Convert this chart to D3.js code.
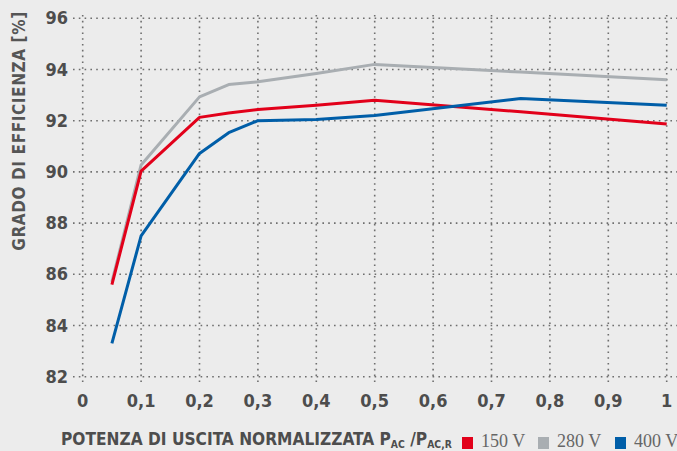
<!DOCTYPE html>
<html>
<head>
<meta charset="utf-8">
<script src="https://cdn.jsdelivr.net/npm/d3@7"></script>
<style>
  html, body { margin: 0; padding: 0; background: #ececec; }
  svg { display: block; }
  .cond { font-family: "Liberation Sans Narrow", "DejaVu Sans Condensed", "Arial Narrow", sans-serif; font-weight: bold; }
</style>
</head>
<body>
<svg id="chart" width="677" height="451"></svg>
<script>
const xValues = [0.05, 0.1, 0.2, 0.25, 0.3, 0.4, 0.5, 0.75, 1.0];
const series150 = [85.6, 90.03, 92.13, 92.3, 92.44, 92.6, 92.8, 92.35, 91.87];
const series280 = [85.7, 90.27, 92.93, 93.41, 93.52, 93.84, 94.2, 93.9, 93.6];
const series400 = [83.3, 87.5, 90.72, 91.53, 92.0, 92.05, 92.2, 92.87, 92.6];
const seriesNames = ["150 V", "280 V", "400 V"];
const seriesColors = ["#e2001a", "#a9aeb2", "#005ea8"];
const xTicks = [0, 0.1, 0.2, 0.3, 0.4, 0.5, 0.6, 0.7, 0.8, 0.9, 1];
const yTicks = [82, 84, 86, 88, 90, 92, 94, 96];

const svg = d3.select("#chart");
const W = 677, H = 451;
const x = d3.scaleLinear().domain([0, 1]).range([82.7, 666.7]);
const y = d3.scaleLinear().domain([82, 96]).range([376.7, 18.3]);

const gridColor = "#6e6e6e";
// horizontal grid
svg.append("g").selectAll("line").data(yTicks).join("line")
  .attr("x1", 73).attr("x2", W)
  .attr("y1", d => y(d)).attr("y2", d => y(d))
  .attr("stroke", gridColor).attr("stroke-width", 1.6)
  .attr("stroke-dasharray", "1.6,4.2");
// vertical grid
svg.append("g").selectAll("line").data(xTicks).join("line")
  .attr("x1", d => x(d)).attr("x2", d => x(d))
  .attr("y1", 15).attr("y2", 386)
  .attr("stroke", gridColor).attr("stroke-width", 1.6)
  .attr("stroke-dasharray", "1.6,4.2");

// y tick labels
svg.append("g").selectAll("text").data(yTicks).join("text")
  .attr("class", "cond")
  .attr("x", 68).attr("y", d => y(d) + 6)
  .attr("text-anchor", "end")
  .attr("font-size", 18).attr("fill", "#4d4d4d")
  .text(d => d);

// x tick labels
const fmt = d => d === 0 ? "0" : d === 1 ? "1" : d3.format(".1f")(d).replace(".", ",");
svg.append("g").selectAll("text").data(xTicks).join("text")
  .attr("class", "cond")
  .attr("x", d => x(d)).attr("y", 407)
  .attr("text-anchor", "middle")
  .attr("font-size", 18).attr("fill", "#4d4d4d")
  .text(fmt);

// lines
const allSeries = [series150, series280, series400];
const line = d3.line().x((d, i) => x(xValues[i])).y(d => y(d));
const order = [1, 0, 2];
order.forEach(k => {
  svg.append("path")
    .datum(allSeries[k])
    .attr("d", line)
    .attr("fill", "none")
    .attr("stroke", seriesColors[k])
    .attr("stroke-width", 3)
    .attr("stroke-linejoin", "round");
});

// y axis title
svg.append("text")
  .attr("class", "cond")
  .attr("transform", "translate(25,131) rotate(-90)")
  .attr("text-anchor", "middle")
  .attr("font-size", 17).attr("fill", "#555")
  .attr("letter-spacing", 0.6)
  .text("GRADO DI EFFICIENZA [%]");

// x axis title (fit to span 61..452)
const tg = svg.append("g");
const xt = tg.append("text")
  .attr("class", "cond")
  .attr("x", 0).attr("y", 0)
  .attr("font-size", 17.5).attr("fill", "#4d4d4d");
xt.append("tspan").text("POTENZA DI USCITA NORMALIZZATA P");
xt.append("tspan").attr("font-size", 10.5).attr("dy", 2.5).text("AC");
xt.append("tspan").attr("dy", -2.5).text(" /P");
xt.append("tspan").attr("font-size", 10.5).attr("dy", 2.5).text("AC,R");
const tw = xt.node().getComputedTextLength() || 391;
const sx = Math.min(1, 391 / tw);
tg.attr("transform", `translate(61,445) scale(${sx},1)`);

// legend
const legendX = [462, 538, 615];
seriesNames.forEach((n, i) => {
  svg.append("rect")
    .attr("x", legendX[i]).attr("y", 437)
    .attr("width", 11).attr("height", 12)
    .attr("fill", seriesColors[i]);
  svg.append("text")
    .attr("x", legendX[i] + 19).attr("y", 447)
    .attr("font-family", "'Liberation Serif', 'DejaVu Serif', serif")
    .attr("font-size", 18).attr("fill", "#666")
    .text(n);
});
</script>
</body>
</html>
